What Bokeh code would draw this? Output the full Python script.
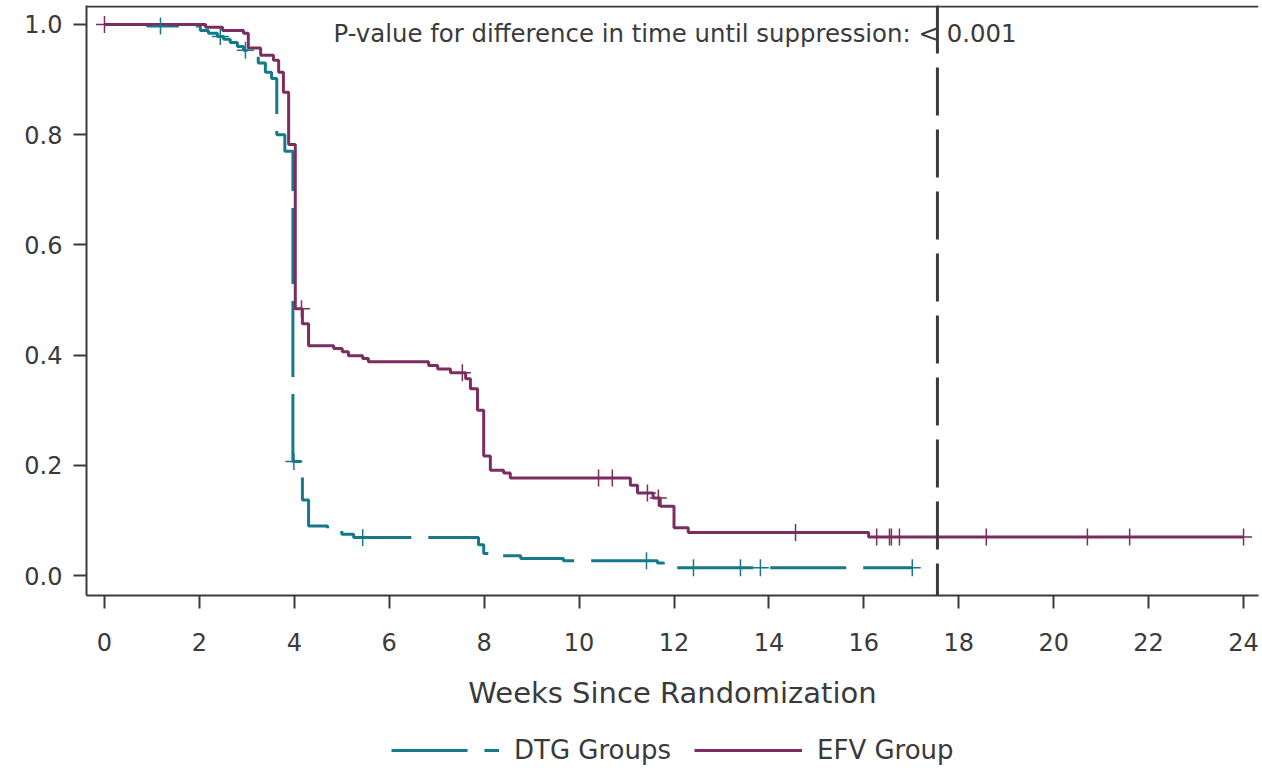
import numpy as np
from bokeh.plotting import figure
from bokeh.layouts import column
from bokeh.models import Span, Label, Legend, LegendItem, Range1d, FixedTicker, PrintfTickFormatter
from bokeh.embed import file_html
from bokeh.resources import INLINE

# ---- data ----
dtg_time = [0.0, 0.9, 2.02, 2.19, 2.38, 2.51, 2.65, 2.80, 2.93, 3.08, 3.24, 3.39, 3.52, 3.63, 3.80,
            3.97, 4.17, 4.30, 4.70, 4.77, 5.0, 5.25, 7.88, 7.99, 8.13, 8.77, 9.67, 11.65, 11.78, 11.93, 12.0]
dtg_surv = [1.0, 0.997, 0.989, 0.984, 0.978, 0.973, 0.967, 0.960, 0.953, 0.942, 0.930, 0.913, 0.902, 0.800, 0.770,
            0.207, 0.137, 0.090, 0.085, 0.081, 0.075, 0.069, 0.056, 0.040, 0.036, 0.031, 0.027, 0.023, 0.020, 0.017, 0.0144]
dtg_end = 17.02
dtg_censor = [1.18, 2.44, 2.97, 3.99, 5.44, 11.42, 12.41, 13.40, 13.82, 17.02]

efv_time = [0.0, 2.13, 2.49, 2.93, 3.03, 3.29, 3.56, 3.67, 3.77, 3.88, 4.02, 4.17, 4.30, 4.83, 5.01, 5.14,
            5.44, 5.56, 6.83, 7.02, 7.29, 7.61, 7.71, 7.86, 7.99, 8.13, 8.41, 8.55, 11.08, 11.23, 11.56,
            11.71, 12.0, 12.3, 16.1]
efv_surv = [1.0, 0.995, 0.989, 0.984, 0.957, 0.944, 0.935, 0.913, 0.877, 0.782, 0.484, 0.457, 0.417, 0.412, 0.406, 0.399,
            0.394, 0.388, 0.381, 0.375, 0.368, 0.357, 0.339, 0.300, 0.217, 0.191, 0.186, 0.177, 0.164, 0.150, 0.141,
            0.126, 0.087, 0.078, 0.070]
efv_end = 24.0
efv_censor = [0.0, 4.15, 7.54, 10.41, 10.70, 11.44, 11.67, 14.56, 16.27, 16.54, 16.58, 16.75, 18.58, 20.71, 21.60, 24.0]

x_ticks = list(range(0, 25, 2))
y_ticks = [0.0, 0.2, 0.4, 0.6, 0.8, 1.0]
ref_week = 17.55
p_text = "P-value for difference in time until suppression: < 0.001"
x_title = "Weeks Since Randomization"
names = ["DTG Groups", "EFV Group"]

TEAL = "#15798a"
MAROON = "#7a2d5e"
DARK = "#3a3a3a"
FONT = "DejaVu Sans"
DTG_DASH = "76 17"
Y_TOP = 1.0343


def surv_at(times, surv, t):
    i = np.searchsorted(np.asarray(times), t, side="right") - 1
    return float(np.asarray(surv)[i])


p = figure(width=1260, height=712, output_backend="svg", toolbar_location=None,
           x_range=Range1d(-0.379, 24.315), y_range=Range1d(-0.0361, Y_TOP),
           min_border_left=86, min_border_right=2, min_border_top=5, min_border_bottom=114)
p.outline_line_color = None
p.grid.visible = False
p.background_fill_color = "white"
p.border_fill_color = "white"

# curves
dx = list(dtg_time) + [dtg_end]
dy = list(dtg_surv) + [dtg_surv[-1]]
ex = list(efv_time) + [efv_end]
ey = list(efv_surv) + [efv_surv[-1]]
p.step(dx, dy, mode="after", line_color=TEAL, line_width=3, line_dash=DTG_DASH)
p.step(ex, ey, mode="after", line_color=MAROON, line_width=3)

p.scatter(dtg_censor, [surv_at(dtg_time, dtg_surv, c) for c in dtg_censor], marker="cross",
          size=17, line_color=TEAL, line_width=1.5)
p.scatter(efv_censor, [surv_at(efv_time, efv_surv, c) for c in efv_censor], marker="cross",
          size=17, line_color=MAROON, line_width=1.5)

# reference line and top border
p.add_layout(Span(location=ref_week, dimension="height", line_color=DARK, line_width=3, line_dash="48 14"))
p.add_layout(Span(location=Y_TOP - 0.002, dimension="width", line_color=DARK, line_width=2))

p.add_layout(Label(x=4.825, y=0.984, text=p_text, text_baseline="middle", text_align="left",
                   text_font=FONT, text_font_size="24.4px", text_color=DARK))

# axes
for ax in (p.xaxis[0], p.yaxis[0]):
    ax.axis_line_color = DARK
    ax.axis_line_width = 2
    ax.major_tick_line_color = DARK
    ax.major_tick_line_width = 2
    ax.major_tick_out = 13
    ax.major_tick_in = 0
    ax.minor_tick_line_color = None
    ax.major_label_text_font = FONT
    ax.major_label_text_font_size = "24px"
    ax.major_label_text_color = DARK

p.xaxis[0].ticker = FixedTicker(ticks=x_ticks)
p.xaxis[0].major_label_standoff = 24
p.xaxis[0].axis_label = x_title
p.xaxis[0].axis_label_text_font = FONT
p.xaxis[0].axis_label_text_font_size = "29px"
p.xaxis[0].axis_label_text_font_style = "normal"
p.xaxis[0].axis_label_text_color = DARK
p.xaxis[0].axis_label_standoff = 22

p.yaxis[0].ticker = FixedTicker(ticks=y_ticks)
p.yaxis[0].formatter = PrintfTickFormatter(format="%.1f")
p.yaxis[0].major_label_standoff = 11

# legend strip below the plot (its renderers hold points outside the visible range)
lg = figure(width=1260, height=54, output_backend="svg", toolbar_location=None,
            x_range=Range1d(0, 1), y_range=Range1d(0, 1), x_axis_type=None, y_axis_type=None,
            min_border=0)
lg.outline_line_color = None
lg.grid.visible = False
l_dtg = lg.line([5, 6], [5, 6], line_color=TEAL, line_width=3, line_dash=DTG_DASH)
l_efv = lg.line([5, 6], [5, 6], line_color=MAROON, line_width=3)
legend = Legend(items=[LegendItem(label=names[0], renderers=[l_dtg]),
                       LegendItem(label=names[1], renderers=[l_efv])],
                orientation="horizontal", location=(305, 1),
                glyph_width=108, glyph_height=20, label_standoff=15, spacing=23,
                label_text_font=FONT, label_text_font_size="26px", label_text_color=DARK,
                border_line_color=None, background_fill_alpha=0, padding=0, margin=0)
lg.add_layout(legend, "center")

layout = column(p, lg, spacing=0)
open("out.html", "w").write(file_html(layout, INLINE))
